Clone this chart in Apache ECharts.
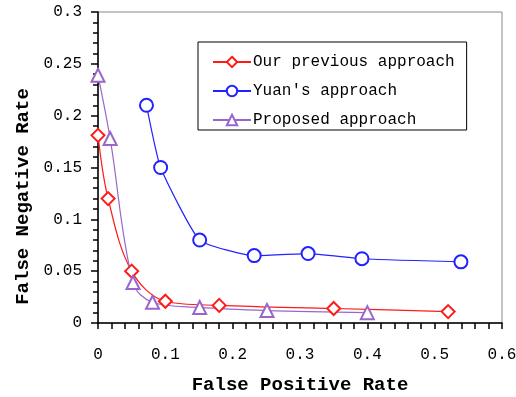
<!DOCTYPE html>
<html>
<head>
<meta charset="utf-8">
<script src="https://cdn.jsdelivr.net/npm/echarts@6/dist/echarts.min.js"></script>
<style>html,body{margin:0;padding:0;background:#fff}#c{width:516px;height:397px}</style>
</head>
<body>
<div id="c"></div>
<script>
const seriesNames = ['Our previous approach', "Yuan's approach", 'Proposed approach'];
const prevFPR = [0, 0.015, 0.05, 0.10, 0.18, 0.35, 0.52];
const prevFNR = [0.181, 0.12, 0.05, 0.021, 0.017, 0.014, 0.011];
const yuanFPR = [0.072, 0.093, 0.151, 0.232, 0.312, 0.392, 0.539];
const yuanFNR = [0.21, 0.15, 0.08, 0.065, 0.067, 0.062, 0.059];
const propFPR = [0, 0.018, 0.052, 0.081, 0.151, 0.251, 0.40];
const propFNR = [0.239, 0.178, 0.039, 0.02, 0.015, 0.012, 0.01];
const xTicks = [0, 0.1, 0.2, 0.3, 0.4, 0.5, 0.6];
const yTicks = [0, 0.05, 0.1, 0.15, 0.2, 0.25, 0.3];

const pairs = (xs, ys) => xs.map((x, i) => [x, ys[i]]);
const fmt = v => { const r = Math.round(v * 100) / 100; return r === 0 ? '0' : String(r); };
const mono = "'Liberation Mono', 'DejaVu Sans Mono', monospace";

const chart = echarts.init(document.getElementById('c'));
chart.setOption({
  backgroundColor: '#fff',
  animation: false,
  grid: { left: 98, right: 14, top: 12, bottom: 74, outerBoundsMode: 'none', containLabel: false,
          show: true, borderColor: '#8a8a8a', borderWidth: 1, backgroundColor: 'transparent' },
  legend: {
    orient: 'vertical', left: 198, top: 42,
    data: seriesNames,
    itemWidth: 38, itemHeight: 13, itemGap: 13,
    padding: [12, 12, 2, 14],
    borderColor: '#000', borderWidth: 1, backgroundColor: '#fff',
    textStyle: { fontFamily: mono, fontSize: 16, color: '#000', padding: [0, 0, 0, -3] }
  },
  xAxis: {
    type: 'value', min: xTicks[0], max: xTicks[xTicks.length - 1], interval: 0.1,
    name: 'False Positive Rate', nameLocation: 'middle', nameGap: 53,
    nameTextStyle: { fontFamily: mono, fontWeight: 'bold', fontSize: 19, color: '#000' },
    axisLine: { show: true, lineStyle: { color: '#000', width: 1.5 } },
    axisTick: { show: true, inside: false, length: 6, lineStyle: { color: '#000', width: 1.5 } },
    minorTick: { show: true, splitNumber: 5, length: 6, lineStyle: { color: '#000', width: 1.5 } },
    axisLabel: { formatter: fmt, fontFamily: mono, fontSize: 16, color: '#000', margin: 24 },
    splitLine: { show: false }
  },
  yAxis: {
    type: 'value', min: yTicks[0], max: yTicks[yTicks.length - 1], interval: 0.05,
    name: 'False Negative Rate', nameLocation: 'middle', nameGap: 64,
    nameTextStyle: { fontFamily: mono, fontWeight: 'bold', fontSize: 19, color: '#000', padding: [0, 58, 0, 0] },
    axisLine: { show: true, lineStyle: { color: '#000', width: 1.5 } },
    axisTick: { show: true, inside: false, length: 7, lineStyle: { color: '#000', width: 1.5 } },
    minorTick: { show: true, splitNumber: 5, length: 5, lineStyle: { color: '#000', width: 1.5 } },
    axisLabel: { formatter: fmt, fontFamily: mono, fontSize: 16, color: '#000', margin: 16 },
    splitLine: { show: false }
  },
  series: [
    { name: seriesNames[0], type: 'line', data: pairs(prevFPR, prevFNR), smooth: 0.35,
      symbol: 'emptyDiamond', symbolSize: 13, color: '#ff1a1a',
      lineStyle: { width: 1.2 }, itemStyle: { borderWidth: 1.2 } },
    { name: seriesNames[1], type: 'line', data: pairs(yuanFPR, yuanFNR), smooth: 0.15,
      symbol: 'emptyCircle', symbolSize: 13, color: '#2222ff',
      lineStyle: { width: 1.2 }, itemStyle: { borderWidth: 1.2 } },
    { name: seriesNames[2], type: 'line', data: pairs(propFPR, propFNR), smooth: 0.35,
      symbol: 'emptyTriangle', symbolSize: 13, color: '#9966cc',
      lineStyle: { width: 1.2 }, itemStyle: { borderWidth: 1.2 } }
  ]
});
</script>
</body>
</html>
